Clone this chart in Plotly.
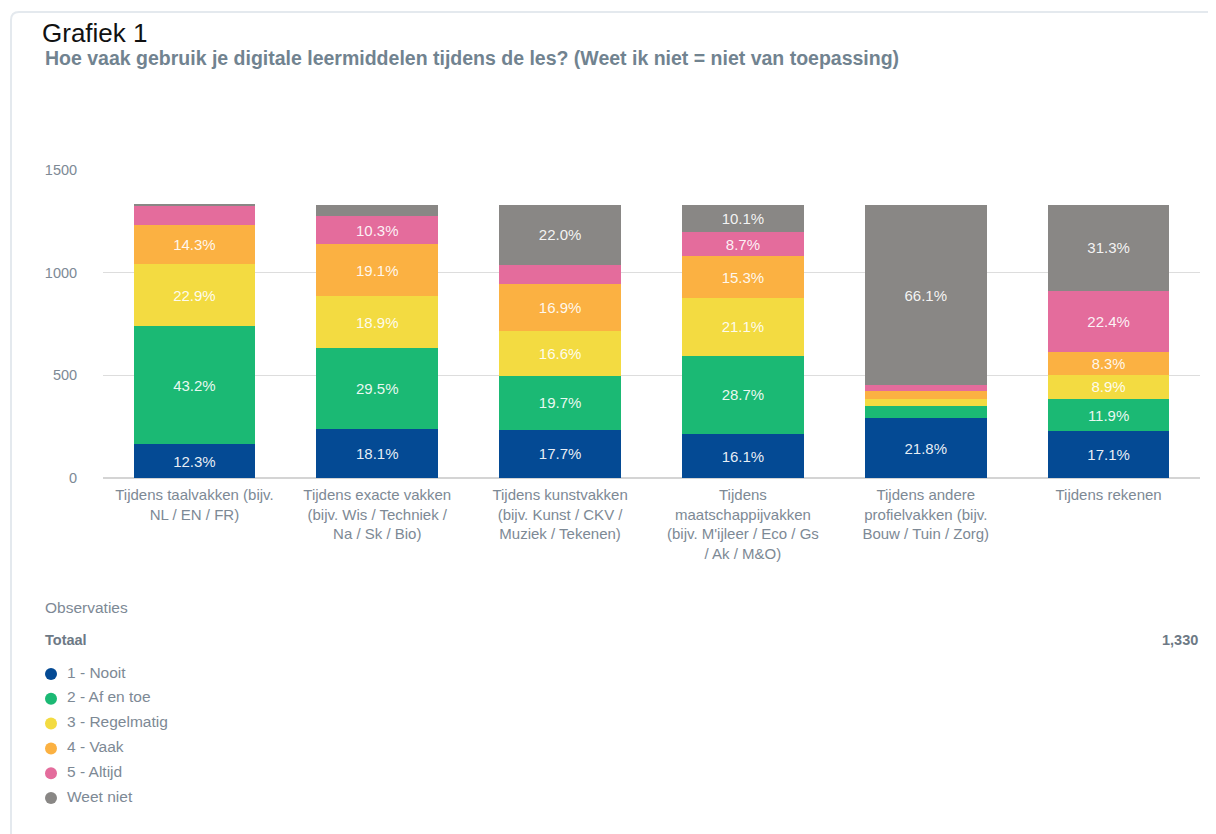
import plotly.graph_objects as go

OFF = 8  # page body margin in the browser
W, H = 1216 - OFF, 834 - OFF
L, R, T, B = 95, 16, 162, 356

categories = [
    "Tijdens taalvakken (bijv.<br>NL / EN / FR)",
    "Tijdens exacte vakken<br>(bijv. Wis / Techniek /<br>Na / Sk / Bio)",
    "Tijdens kunstvakken<br>(bijv. Kunst / CKV /<br>Muziek / Tekenen)",
    "Tijdens<br>maatschappijvakken<br>(bijv. M'ijleer / Eco / Gs<br>/ Ak / M&O)",
    "Tijdens andere<br>profielvakken (bijv.<br>Bouw / Tuin / Zorg)",
    "Tijdens rekenen",
]
total_n = 1330
series_names = ["1 - Nooit", "2 - Af en toe", "3 - Regelmatig", "4 - Vaak", "5 - Altijd", "Weet niet"]
colors = ["#044a94", "#1bb974", "#f3db41", "#fbb142", "#e46c9c", "#898785"]

pct_nooit = [12.3, 18.1, 17.7, 16.1, 21.8, 17.1]
pct_af_en_toe = [43.2, 29.5, 19.7, 28.7, 4.6, 11.9]
pct_regelmatig = [22.9, 18.9, 16.6, 21.1, 2.7, 8.9]
pct_vaak = [14.3, 19.1, 16.9, 15.3, 2.8, 8.3]
pct_altijd = [7.0, 10.3, 7.1, 8.7, 2.0, 22.4]
pct_weet_niet = [0.3, 4.1, 22.0, 10.1, 66.1, 31.3]
series = [pct_nooit, pct_af_en_toe, pct_regelmatig, pct_vaak, pct_altijd, pct_weet_niet]

y_ticks = [0, 500, 1000, 1500]

FONT = "Liberation Sans, Arial, sans-serif"
GRAY_TXT = "#7d8995"

fig = go.Figure()
for name, vals, col in zip(series_names, series, colors):
    counts = [v * total_n / 100 for v in vals]
    texts = [f"{v:.1f}%" if v >= 8 else "" for v in vals]
    fig.add_trace(go.Bar(
        x=categories, y=counts, name=name, marker=dict(color=col, line=dict(width=0)),
        text=texts, textposition="inside", insidetextanchor="middle", textangle=0,
        insidetextfont=dict(color="rgba(255,255,255,0.92)", size=15, family=FONT),
        hovertemplate="%{x}<br>" + name + ": %{text}<extra></extra>",
        showlegend=False,
    ))

plot_w = W - L - R
plot_h = H - T - B

def px(xr):
    return (xr - OFF - L) / plot_w

def py(yr):
    return (H - B - (yr - OFF)) / plot_h

annotations = [
    dict(text="Grafiek 1", x=px(40), y=py(33), xref="paper", yref="paper", xanchor="left", yanchor="middle",
         showarrow=False, font=dict(size=26, color="#111111", family=FONT)),
    dict(text="<b>Hoe vaak gebruik je digitale leermiddelen tijdens de les? (Weet ik niet = niet van toepassing)</b>",
         x=px(43), y=py(58), xref="paper", yref="paper", xanchor="left", yanchor="middle",
         showarrow=False, font=dict(size=19.5, color="#718390", family=FONT)),
    dict(text="Observaties", x=px(43), y=py(607), xref="paper", yref="paper", xanchor="left", yanchor="middle",
         showarrow=False, font=dict(size=15.5, color=GRAY_TXT, family=FONT)),
    dict(text="<b>Totaal</b>", x=px(43), y=py(640), xref="paper", yref="paper", xanchor="left", yanchor="middle",
         showarrow=False, font=dict(size=14.5, color="#6d7985", family=FONT)),
    dict(text=f"<b>{total_n:,}</b>", x=px(1200), y=py(640), xref="paper", yref="paper", xanchor="right", yanchor="middle",
         showarrow=False, font=dict(size=14.5, color="#6d7985", family=FONT)),
]

shapes = [
    dict(type="path", xref="paper", yref="paper",
         path=f"M {px(11)},{py(860)} L {px(11)},{py(20)} Q {px(11)},{py(12)} {px(19)},{py(12)} L {px(1240)},{py(12)}",
         line=dict(color="#e4e9ee", width=2), layer="below"),
]

for i, (name, col) in enumerate(zip(series_names, colors)):
    yc = 672 + i * 24.8
    shapes.append(dict(type="circle", xref="paper", yref="paper", xsizemode="pixel", ysizemode="pixel",
                       xanchor=px(51), yanchor=py(yc + 2), x0=-6, x1=6, y0=-6, y1=6,
                       fillcolor=col, line=dict(width=0)))
    annotations.append(dict(text=name, x=px(65), y=py(yc), xref="paper", yref="paper", xanchor="left",
                            yanchor="middle", showarrow=False, font=dict(size=15.5, color=GRAY_TXT, family=FONT)))

fig.update_layout(
    width=W, height=H, barmode="stack", bargap=0.335,
    margin=dict(l=L, r=R, t=T, b=B, autoexpand=False),
    paper_bgcolor="white", plot_bgcolor="white",
    font=dict(family=FONT, color=GRAY_TXT, size=15),
    xaxis=dict(showgrid=False, ticks="outside", ticklen=3, tickcolor="rgba(0,0,0,0)",
               tickfont=dict(size=15, color=GRAY_TXT, family=FONT), showline=False, fixedrange=True),
    yaxis=dict(range=[0, 1500], tickvals=y_ticks, showgrid=True, gridcolor="#dddddd", gridwidth=1,
               zeroline=True, zerolinecolor="#d4d4d4", zerolinewidth=2,
               ticks="outside", ticklen=22, tickcolor="rgba(0,0,0,0)",
               tickfont=dict(size=14.5, color=GRAY_TXT, family=FONT), showline=False),
    annotations=annotations, shapes=shapes, showlegend=False,
)

fig.write_html("out.html")
